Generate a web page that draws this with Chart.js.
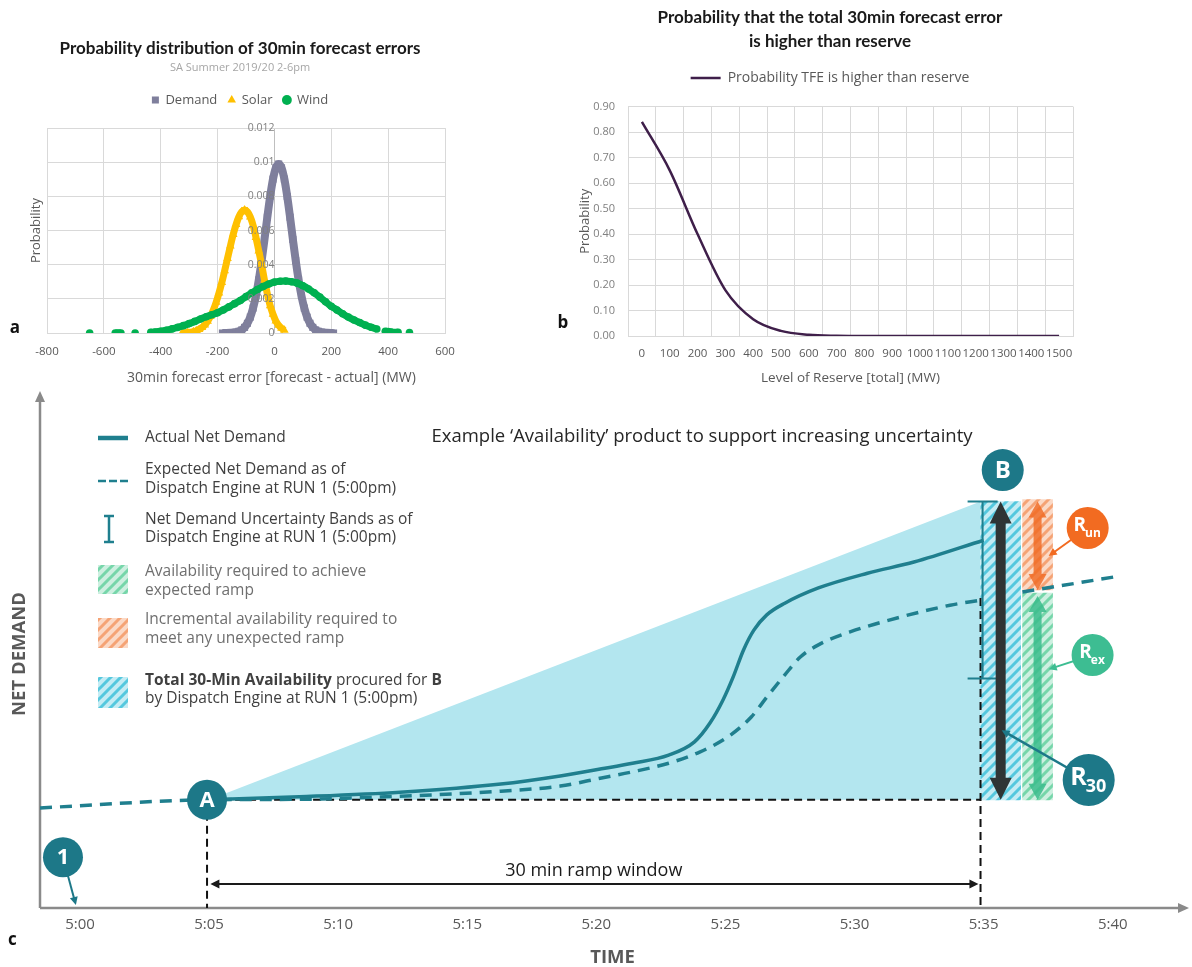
<!DOCTYPE html>
<html>
<head>
<meta charset="utf-8">
<title>30min forecast error and availability</title>
<script src="https://cdn.jsdelivr.net/npm/chart.js@4.4.1/dist/chart.umd.min.js"></script>
<style>
  html, body { margin: 0; padding: 0; background: #fff; }
  body { position: relative; width: 1192px; height: 967px; overflow: hidden; }
  canvas { position: absolute; }
  #chartA { left: 0; top: 0; }
  #chartB { left: 555px; top: 0; }
  #chartC { left: 0; top: 388px; }
</style>
</head>
<body>
<canvas id="chartA" width="480" height="390"></canvas>
<canvas id="chartB" width="550" height="390"></canvas>
<canvas id="chartC" width="1192" height="579"></canvas>
<script>
// ---- panel a: probability distribution of 30min forecast errors [MW, probability]
const demandPoints = [[-183,0],[-170,0],[-155,0.00001],[-135,0.00005],[-125,0.0001],[-115,0.00018],[-105,0.00033],[-95,0.00057],[-85,0.00093],[-75,0.00146],[-65,0.00218],[-55,0.00311],[-45,0.00423],[-35,0.00548],[-25,0.00678],[-15,0.008],[-5,0.00901],[5,0.00967],[15,0.0099],[25,0.00967],[35,0.00901],[45,0.008],[55,0.00678],[65,0.00548],[75,0.00423],[85,0.00311],[95,0.00218],[105,0.00146],[115,0.00093],[125,0.00057],[135,0.00033],[145,0.00018],[155,0.0001],[165,0.00005],[185,0.00001],[200,0],[208,0]];
const solarPoints = [[-325,0.00001],[-305,0.00003],[-285,0.00008],[-275,0.00013],[-265,0.00021],[-255,0.00032],[-245,0.00047],[-235,0.00069],[-225,0.00097],[-215,0.00134],[-205,0.0018],[-195,0.00234],[-185,0.00296],[-175,0.00365],[-165,0.00437],[-155,0.00509],[-145,0.00577],[-135,0.00635],[-125,0.00681],[-115,0.0071],[-105,0.0072],[-95,0.0071],[-85,0.0068],[-75,0.0063],[-65,0.0056],[-55,0.0048],[-45,0.004],[-35,0.0031],[-25,0.0023],[-15,0.0016],[-5,0.0011],[5,0.0007],[15,0.00045],[25,0.00028],[35,0.00016]];
const windPoints = [[-650,0],[-560,0],[-550,0],[-540,0],[-490,0],[-435,0.00004],[-420,0.00006],[-400,0.0001],[-380,0.00016],[-360,0.00024],[-340,0.00033],[-320,0.00043],[-300,0.00055],[-280,0.00068],[-260,0.00082],[-240,0.00095],[-220,0.00107],[-200,0.00119],[-180,0.00135],[-160,0.00153],[-140,0.00172],[-120,0.0019],[-100,0.00213],[-80,0.00235],[-60,0.00255],[-40,0.00272],[-20,0.00287],[0,0.00298],[20,0.00303],[40,0.00304],[60,0.003],[80,0.00292],[100,0.00277],[120,0.00258],[140,0.00235],[160,0.0021],[180,0.00183],[200,0.00156],[220,0.00135],[240,0.00113],[260,0.00093],[280,0.00076],[300,0.00061],[320,0.00046],[340,0.00034],[360,0.00023],[390,0.0001],[400,0.00008],[410,0.00006],[435,0.00004],[475,0.00002]];

// ---- panel b: probability that total forecast error exceeds reserve
const reserveLevels = ['0','100','200','300','400','500','600','700','800','900','1000','1100','1200','1300','1400','1500'];
const probHigher = [0.84,0.65,0.40,0.18,0.066,0.02,0.005,0.001,0,0,0,0,0,0,0,0];

// ---- panel c: availability example [minutes after 5:00, net demand (relative units)]
const timeTicks = [0,5,10,15,20,25,30,35,40];
const actualNetDemand = [[5,21.3],[8.5,21.9],[12.4,22.8],[16.3,24.4],[18.6,26.0],[20.2,27.4],[21.4,28.5],[22.8,30.1],[23.8,32.7],[24.4,36.4],[24.9,40.9],[25.3,45.5],[25.7,50.8],[26.1,54.7],[26.6,57.7],[27.3,60.0],[28.6,63.0],[30.5,65.9],[32.3,68.1],[35.0,72.4]];
const expectedNetDemand = [[-1.55,19.7],[4.9,21.3],[8.5,21.4],[12.4,22.0],[16.3,23.0],[18.6,24.0],[20.2,25.6],[21.4,26.8],[22.8,28.5],[24.0,30.7],[25.1,33.7],[26.0,37.6],[26.6,41.5],[27.3,45.9],[27.9,49.4],[28.6,51.8],[29.8,54.3],[31.8,57.3],[33.7,59.6],[34.9,60.6]];
const expectedAfterB = [[36.5,62.2],[40.1,65.2]];
const startLevel = 21.3;
const rampEnvelope = [[5,21.3],[34.88,80.0]];
const rampBase = [[5,21.3],[34.88,21.3]];
const runStartDrop = [[4.92,21.3],[4.92,0]];
const runEndDrop = [[34.88,61.0],[34.88,0]];
const totalAvail = { x: 35.66, y: [21.3, 80.0] };
const unexpectedAvail = { x: 37.09, y: [62.6, 80.4] };
const expectedAvail = { x: 37.09, y: [21.3, 62.0] };
const uncertaintyBand = [34.96, 45.2, 80.0]; // time, low, high
const rampWindow = [5.05, 34.8, 4.7];       // from, to, level
const rampLabelAt = [19.9, 7.3];

const teal = '#1f7f8e';
const badgeTeal = '#1d7888';
const gridGray = '#d9d9d9';
const textGray = '#595959';

Chart.defaults.font.family = "'Open Sans', 'Noto Sans', sans-serif";
Chart.defaults.color = textGray;
Chart.defaults.animation = false;
Chart.defaults.plugins.tooltip.enabled = false;

const xy = pts => pts.map(([x, y]) => ({ x, y }));
const hideGaps = { borderColor: c => (c.p1.parsed.x - c.p0.parsed.x > 26 ? 'rgba(0,0,0,0)' : undefined) };

const letterPlugin = {
  id: 'panelLetter',
  afterDraw(chart, args, opts) {
    const ctx = chart.ctx;
    ctx.save();
    ctx.font = 'bold 17px "Open Sans", sans-serif';
    ctx.fillStyle = '#111';
    ctx.textAlign = 'center';
    ctx.textBaseline = 'middle';
    ctx.fillText(opts.text, opts.x, opts.y);
    ctx.restore();
  }
};

const spacer = (position, size) => ({
  type: 'linear', position, display: true,
  ticks: { display: false }, grid: { display: false }, border: { display: false },
  afterFit: s => { if (position === 'top') s.height = size; else s.width = size; }
});

// ================= panel a =================
new Chart(document.getElementById('chartA'), {
  type: 'scatter',
  data: {
    datasets: [
      { label: 'Demand', data: xy(demandPoints), showLine: true, borderColor: '#7f7f9c', backgroundColor: '#7f7f9c',
        borderWidth: 8, pointStyle: 'rect', pointRadius: 5, pointBorderWidth: 0, cubicInterpolationMode: 'monotone',
        borderJoinStyle: 'round', segment: hideGaps, order: 2 },
      { label: 'Solar', data: xy(solarPoints), showLine: true, borderColor: '#ffc000', backgroundColor: '#ffc000',
        borderWidth: 7, pointStyle: 'triangle', pointRadius: 5, pointBorderWidth: 0, cubicInterpolationMode: 'monotone',
        borderJoinStyle: 'round', segment: hideGaps, order: 1 },
      { label: 'Wind', data: xy(windPoints), showLine: true, borderColor: '#00b050', backgroundColor: '#00b050',
        borderWidth: 7, pointStyle: 'circle', pointRadius: 3.8, pointBorderWidth: 0, cubicInterpolationMode: 'monotone',
        borderJoinStyle: 'round', segment: hideGaps, order: 0 }
    ]
  },
  options: {
    responsive: false,
    layout: { padding: 0 },
    scales: {
      x: {
        type: 'linear', min: -800, max: 600,
        ticks: { stepSize: 200, padding: 12, color: textGray, font: { size: 11.5 } },
        grid: { color: c => (c.tick && c.tick.value === 0 ? '#bfbfbf' : gridGray), drawTicks: false },
        border: { color: gridGray },
        title: { display: true, text: ' '.repeat(14) + '30min forecast error [forecast - actual] (MW)', color: textGray,
          font: { size: 14 }, padding: { top: 4, bottom: 3.6 } },
        afterFit: s => { s.height = 57; }
      },
      // tick labels sit on the zero line, drawn above the series
      y: {
        type: 'linear', position: { x: 0 }, min: 0, max: 0.012,
        ticks: { z: 1, stepSize: 0.002, padding: 6, color: '#808080', font: { size: 10.5 }, callback: v => String(+v.toFixed(3)) },
        grid: { display: false, drawTicks: false },
        border: { display: false }
      },
      yTitle: {
        type: 'linear', position: 'left', min: 0, max: 0.012,
        ticks: { display: false, stepSize: 0.002 },
        grid: { color: gridGray, drawTicks: false },
        border: { display: false },
        title: { display: true, text: 'Probability', color: textGray, font: { size: 13 }, padding: { top: 28, bottom: 0 } },
        afterFit: s => { s.width = 47; }
      },
      yRight: spacer('right', 35),
      xTop: spacer('top', 11.6)
    },
    plugins: {
      title: { display: true, text: 'Probability distribution of 30min forecast errors', color: '#1a1a1a',
        font: { family: 'Lato', size: 17, weight: 'bold' }, padding: { top: 38, bottom: 0 } },
      subtitle: { display: true, text: 'SA Summer 2019/20 2-6pm', color: '#a6a6a6', font: { size: 11 }, padding: { top: 3, bottom: 8 } },
      legend: { position: 'top', labels: { usePointStyle: true, boxWidth: 7, boxHeight: 7, padding: 10.9, color: textGray,
        font: { size: 13 }, sort: (a, b) => a.datasetIndex - b.datasetIndex } },
      panelLetter: { text: 'a', x: 15, y: 328 }
    }
  },
  plugins: [letterPlugin]
});

// ================= panel b =================
new Chart(document.getElementById('chartB'), {
  type: 'line',
  data: {
    labels: reserveLevels,
    datasets: [{
      label: 'Probability TFE is higher than reserve', data: probHigher,
      borderColor: '#3f1f4a', backgroundColor: '#3f1f4a', borderWidth: 2.5,
      pointRadius: 0, pointStyle: 'line', cubicInterpolationMode: 'monotone'
    }]
  },
  options: {
    responsive: false,
    layout: { padding: 0 },
    scales: {
      x: {
        offset: true,
        grid: { offset: true, color: gridGray, drawTicks: false },
        border: { color: gridGray },
        ticks: { padding: 11, color: textGray, font: { size: 11.5 }, maxRotation: 0, autoSkip: false },
        title: { display: true, text: 'Level of Reserve [total] (MW)', color: textGray, font: { size: 13.5 }, padding: { top: 4, bottom: 3.9 } },
        afterFit: s => { s.height = 54; }
      },
      y: {
        min: 0, max: 0.9,
        ticks: { stepSize: 0.1, padding: 13, color: '#808080', font: { size: 11 }, callback: v => v.toFixed(2) },
        grid: { color: gridGray, drawTicks: false },
        border: { display: false },
        title: { display: true, text: 'Probability', color: textGray, font: { size: 13 }, padding: { top: 22, bottom: 0 } },
        afterFit: s => { s.width = 73; }
      },
      yRight: spacer('right', 32),
      xTop: spacer('top', 11.6)
    },
    plugins: {
      title: { display: true, text: ['Probability that the total 30min forecast error', 'is higher than reserve'], color: '#1a1a1a',
        font: { family: 'Lato', size: 17, weight: 'bold', lineHeight: 1.4 }, padding: { top: 6, bottom: 4 } },
      legend: { position: 'top', labels: { usePointStyle: true, pointStyleWidth: 30, padding: 13.4, color: textGray, font: { size: 14 } } },
      panelLetter: { text: 'b', x: 8, y: 323 }
    }
  },
  plugins: [letterPlugin]
});

// ================= panel c =================
function makeHatch(bg, stripe) {
  const c = document.createElement('canvas');
  c.width = 10; c.height = 10;
  const g = c.getContext('2d');
  g.fillStyle = bg;
  g.fillRect(0, 0, 10, 10);
  g.strokeStyle = stripe;
  g.lineWidth = 3;
  g.beginPath();
  g.moveTo(-7, 7); g.lineTo(7, -7);
  g.moveTo(-2, 12); g.lineTo(12, -2);
  g.moveTo(3, 17); g.lineTo(17, 3);
  g.stroke();
  return document.getElementById('chartC').getContext('2d').createPattern(c, 'repeat');
}
const hatchCyan = makeHatch('#c4ecf4', '#55c8de');
const hatchGreen = makeHatch('#cdefe0', '#76d6aa');
const hatchOrange = makeHatch('#fbd9c6', '#f5a375');

function arrowHead(ctx, x, y, ang, len, half) {
  const c = Math.cos(ang), s = Math.sin(ang);
  ctx.beginPath();
  ctx.moveTo(x, y);
  ctx.lineTo(x - len * c + half * s, y - len * s - half * c);
  ctx.lineTo(x - len * c - half * s, y - len * s + half * c);
  ctx.closePath();
  ctx.fill();
}

function doubleArrow(ctx, x, top, bottom, shaft, headHalf, headLen, color) {
  ctx.fillStyle = color;
  ctx.beginPath();
  ctx.moveTo(x, top);
  ctx.lineTo(x + headHalf, top + headLen);
  ctx.lineTo(x + shaft / 2, top + headLen);
  ctx.lineTo(x + shaft / 2, bottom - headLen);
  ctx.lineTo(x + headHalf, bottom - headLen);
  ctx.lineTo(x, bottom);
  ctx.lineTo(x - headHalf, bottom - headLen);
  ctx.lineTo(x - shaft / 2, bottom - headLen);
  ctx.lineTo(x - shaft / 2, top + headLen);
  ctx.lineTo(x - headHalf, top + headLen);
  ctx.closePath();
  ctx.fill();
}

const badges = [
  { text: '1', at: [-0.66, 10.0], r: 20, color: badgeTeal, size: 22, to: [-0.16, 0.6] },
  { text: 'A', at: [4.92, 21.3], r: 20, color: badgeTeal, size: 22 },
  { text: 'B', at: [35.74, 86.2], r: 21, color: badgeTeal, size: 24 },
  { text: 'R', sub: 'un', at: [39.03, 74.8], r: 21, color: '#f26b21', size: 19, subSize: 12, to: [37.52, 69.3] },
  { text: 'R', sub: 'ex', at: [39.22, 49.8], r: 21, color: '#3dbd92', size: 19, subSize: 12, to: [37.52, 47.0] },
  { text: 'R', sub: '30', at: [39.07, 25.2], r: 26, color: badgeTeal, size: 25, subSize: 18, to: [35.7, 35.0] }
];

function drawBadge(ctx, x, y, b) {
  ctx.fillStyle = b.color;
  ctx.beginPath();
  ctx.arc(x, y, b.r, 0, Math.PI * 2);
  ctx.fill();
  ctx.fillStyle = '#fff';
  ctx.textBaseline = 'middle';
  const main = `bold ${b.size}px "Open Sans", sans-serif`;
  ctx.font = main;
  if (!b.sub) {
    ctx.textAlign = 'center';
    ctx.fillText(b.text, x, y + 1);
    return;
  }
  const subFont = `bold ${b.subSize}px "Open Sans", sans-serif`;
  const w1 = ctx.measureText(b.text).width;
  ctx.font = subFont;
  const w2 = ctx.measureText(b.sub).width;
  const sx = x - (w1 + w2) / 2;
  ctx.textAlign = 'left';
  ctx.font = main;
  ctx.fillText(b.text, sx, y - 2);
  ctx.font = subFont;
  ctx.fillText(b.sub, sx + w1 - 1, y + b.size * 0.28);
}

const rampPlugin = {
  id: 'rampDiagram',
  beforeDatasetsDraw(chart) {
    const { ctx, chartArea: a } = chart;
    ctx.save();
    ctx.strokeStyle = '#8a8a8a';
    ctx.fillStyle = '#8a8a8a';
    ctx.lineWidth = 2.5;
    ctx.beginPath();
    ctx.moveTo(a.left, a.bottom);
    ctx.lineTo(a.left, 12);
    ctx.moveTo(a.left, a.bottom);
    ctx.lineTo(1180, a.bottom);
    ctx.stroke();
    arrowHead(ctx, a.left, 3, -Math.PI / 2, 11, 5);
    arrowHead(ctx, 1189, a.bottom, 0, 11, 5);
    ctx.restore();
  },
  afterDatasetsDraw(chart) {
    const ctx = chart.ctx;
    const X = v => chart.scales.x.getPixelForValue(v);
    const Y = v => chart.scales.y.getPixelForValue(v);
    ctx.save();

    // net demand uncertainty band at B
    const [bt, blo, bhi] = uncertaintyBand;
    ctx.strokeStyle = teal;
    ctx.lineWidth = 2;
    ctx.beginPath();
    ctx.moveTo(X(bt), Y(blo)); ctx.lineTo(X(bt), Y(bhi));
    ctx.moveTo(X(bt) - 15, Y(bhi)); ctx.lineTo(X(bt) + 15, Y(bhi));
    ctx.moveTo(X(bt) - 15, Y(blo)); ctx.lineTo(X(bt) + 15, Y(blo));
    ctx.stroke();

    // availability arrows
    doubleArrow(ctx, X(unexpectedAvail.x), Y(unexpectedAvail.y[1]) + 2, Y(unexpectedAvail.y[0]), 8, 9, 16, 'rgba(240,104,32,0.8)');
    doubleArrow(ctx, X(expectedAvail.x), Y(expectedAvail.y[1]) + 3, Y(expectedAvail.y[0]), 8, 9, 16, 'rgba(58,188,140,0.85)');
    doubleArrow(ctx, X(totalAvail.x), Y(totalAvail.y[1]), Y(totalAvail.y[0]), 10, 11, 22, '#2f3535');

    // 30 min ramp window
    const [w0, w1, wv] = rampWindow;
    ctx.strokeStyle = '#1a1a1a';
    ctx.fillStyle = '#1a1a1a';
    ctx.lineWidth = 2;
    ctx.beginPath();
    ctx.moveTo(X(w0) + 6, Y(wv)); ctx.lineTo(X(w1) - 6, Y(wv));
    ctx.stroke();
    arrowHead(ctx, X(w0), Y(wv), Math.PI, 9, 4.5);
    arrowHead(ctx, X(w1), Y(wv), 0, 9, 4.5);
    ctx.font = '18px "Open Sans", sans-serif';
    ctx.textAlign = 'center';
    ctx.textBaseline = 'middle';
    ctx.fillText('30 min ramp window', X(rampLabelAt[0]), Y(rampLabelAt[1]));

    // pointers then badges
    badges.forEach(b => {
      if (!b.to) return;
      const fx = X(b.at[0]), fy = Y(b.at[1]), tx = X(b.to[0]), ty = Y(b.to[1]);
      const ang = Math.atan2(ty - fy, tx - fx);
      ctx.strokeStyle = b.color;
      ctx.fillStyle = b.color;
      ctx.lineWidth = b.r > 22 ? 2.5 : 2;
      ctx.beginPath();
      ctx.moveTo(fx, fy);
      ctx.lineTo(tx - 6 * Math.cos(ang), ty - 6 * Math.sin(ang));
      ctx.stroke();
      arrowHead(ctx, tx, ty, ang, 8, 4);
    });
    badges.forEach(b => drawBadge(ctx, X(b.at[0]), Y(b.at[1]), b));
    ctx.restore();
  },
  afterDraw(chart) {
    const ctx = chart.ctx;
    ctx.save();
    ctx.textBaseline = 'middle';

    // title
    ctx.font = '18.5px "Open Sans", sans-serif';
    ctx.fillStyle = '#262626';
    ctx.textAlign = 'center';
    ctx.fillText('Example \u2018Availability\u2019 product to support increasing uncertainty', 702, 49);

    // legend
    ctx.textAlign = 'left';
    const dark = '#404040', light = '#6f6f6f';
    const body = '15.5px "Open Sans", sans-serif';
    const put = (t, y, col) => { ctx.font = body; ctx.fillStyle = col; ctx.fillText(t, 145, y); };

    ctx.strokeStyle = teal;
    ctx.lineWidth = 4.5;
    ctx.beginPath(); ctx.moveTo(98, 50); ctx.lineTo(128, 50); ctx.stroke();
    put('Actual Net Demand', 50, dark);

    ctx.lineWidth = 2.5;
    ctx.setLineDash([8, 3]);
    ctx.beginPath(); ctx.moveTo(98, 93); ctx.lineTo(128, 93); ctx.stroke();
    ctx.setLineDash([]);
    put('Expected Net Demand as of', 82, dark);
    put('Dispatch Engine at RUN 1 (5:00pm)', 101, dark);

    ctx.lineWidth = 2.5;
    ctx.beginPath();
    ctx.moveTo(109, 128); ctx.lineTo(109, 154);
    ctx.moveTo(104, 128); ctx.lineTo(114, 128);
    ctx.moveTo(104, 154); ctx.lineTo(114, 154);
    ctx.stroke();
    put('Net Demand Uncertainty Bands as of', 132, dark);
    put('Dispatch Engine at RUN 1 (5:00pm)', 150, dark);

    ctx.fillStyle = hatchGreen; ctx.fillRect(98, 177, 30, 29);
    put('Availability required to achieve', 184, light);
    put('expected ramp', 203, light);

    ctx.fillStyle = hatchOrange; ctx.fillRect(98, 230, 30, 30);
    put('Incremental availability required to', 232, light);
    put('meet any unexpected ramp', 251, light);

    ctx.fillStyle = hatchCyan; ctx.fillRect(98, 289, 30, 31);
    let x = 145;
    [['Total 30-Min Availability', 'bold '], [' procured for ', ''], ['B', 'bold ']].forEach(([t, w]) => {
      ctx.font = w + body;
      ctx.fillStyle = dark;
      ctx.fillText(t, x, 293);
      x += ctx.measureText(t).width;
    });
    put('by Dispatch Engine at RUN 1 (5:00pm)', 311, dark);

    ctx.font = 'bold 17px "Open Sans", sans-serif';
    ctx.fillStyle = '#111';
    ctx.fillText('c', 8, 552);
    ctx.restore();
  }
};

const dashedBlack = { borderColor: '#111', borderWidth: 2, borderDash: [8, 5], pointRadius: 0, order: 5 };

new Chart(document.getElementById('chartC'), {
  type: 'line',
  data: {
    datasets: [
      { label: 'Actual Net Demand', data: xy(actualNetDemand), borderColor: teal, borderWidth: 3.5, pointRadius: 0,
        cubicInterpolationMode: 'monotone', order: 1 },
      { label: 'Expected Net Demand', data: xy(expectedNetDemand), borderColor: teal, borderWidth: 3.5, borderDash: [12, 8],
        pointRadius: 0, cubicInterpolationMode: 'monotone', order: 1 },
      { label: 'Expected Net Demand after B', data: xy(expectedAfterB), borderColor: teal, borderWidth: 3.5, borderDash: [12, 8],
        pointRadius: 0, order: 1 },
      { label: 'Ramp envelope', data: xy(rampEnvelope), borderWidth: 0, pointRadius: 0, fill: { value: startLevel },
        backgroundColor: '#b3e6ef', order: 10 },
      { type: 'bar', label: 'Total 30-Min Availability', data: [totalAvail], backgroundColor: hatchCyan, barThickness: 40,
        grouped: false, borderWidth: 0, order: 9 },
      { type: 'bar', label: 'Incremental availability', data: [unexpectedAvail], backgroundColor: hatchOrange, barThickness: 30,
        grouped: false, borderWidth: 0, order: 8 },
      { type: 'bar', label: 'Availability for expected ramp', data: [expectedAvail], backgroundColor: hatchGreen, barThickness: 30,
        grouped: false, borderWidth: 0, order: 8 },
      Object.assign({ label: 'Ramp base', data: xy(rampBase) }, dashedBlack),
      Object.assign({ label: 'Window start', data: xy(runStartDrop) }, dashedBlack),
      Object.assign({ label: 'Window end', data: xy(runEndDrop) }, dashedBlack)
    ]
  },
  options: {
    responsive: false,
    layout: { padding: { left: 0, right: 7, top: 12, bottom: 0 } },
    scales: {
      x: {
        type: 'linear', min: -1.55, max: 42.8, offset: false,
        afterBuildTicks: s => { s.ticks = timeTicks.map(v => ({ value: v })); },
        ticks: { padding: 8, color: textGray, font: { size: 15 }, autoSkip: false, maxRotation: 0,
          callback: v => '5:' + String(v).padStart(2, '0') },
        grid: { display: false, drawTicks: false },
        border: { display: false },
        title: { display: true, text: 'TIME', color: textGray, font: { size: 18.5, weight: 'bold' }, padding: { top: 0, bottom: -2 } },
        afterFit: s => { s.height = 59; }
      },
      y: {
        type: 'linear', min: 0, max: 100,
        ticks: { display: false },
        grid: { display: false, drawTicks: false },
        border: { display: false },
        title: { display: true, text: 'NET DEMAND', color: textGray, font: { size: 18.5, weight: 'bold' }, padding: { top: 9, bottom: 0 } },
        afterFit: s => { s.width = 40; }
      }
    },
    plugins: { legend: { display: false } }
  },
  plugins: [rampPlugin]
});
</script>
</body>
</html>
